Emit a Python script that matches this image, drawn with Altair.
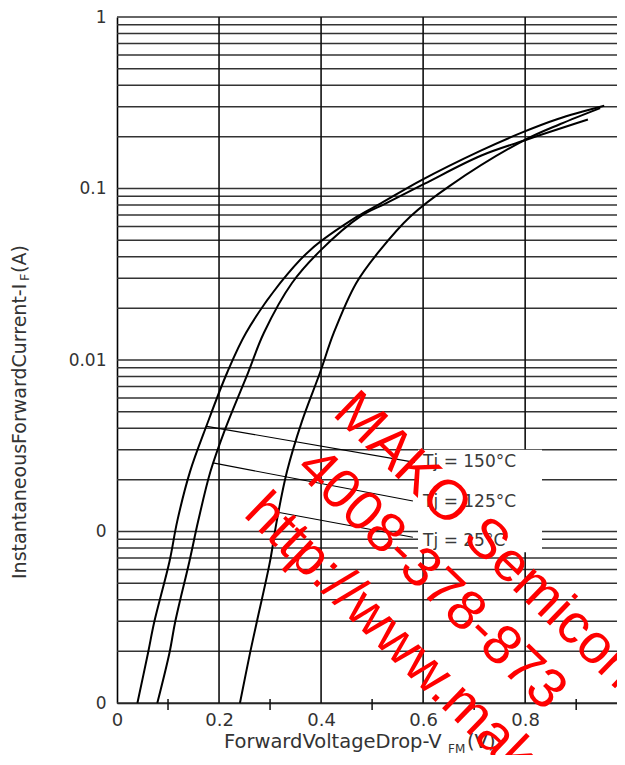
import altair as alt
import pandas as pd

# ---------------- data ----------------
# Tj = 150 C curve
V_150 = [0.040, 0.061, 0.073, 0.103, 0.118, 0.143, 0.176, 0.216, 0.253, 0.320,
         0.379, 0.471, 0.517, 0.595, 0.713, 0.792, 0.864, 0.955]
I_150 = [1.0e-4, 1.972e-4, 2.965e-4, 6.714e-4, 1.146e-3, 2.228e-3, 4.178e-3,
         8.453e-3, 0.01442, 0.02812, 0.04385, 0.06871, 0.08185, 0.1112, 0.1663,
         0.2109, 0.2541, 0.3034]
# Tj = 125 C curve
V_125 = [0.079, 0.103, 0.114, 0.142, 0.159, 0.183, 0.212, 0.257, 0.288, 0.343,
         0.400, 0.477, 0.527, 0.603, 0.713, 0.798, 0.923]
I_125 = [1.0e-4, 1.972e-4, 2.965e-4, 6.714e-4, 1.146e-3, 2.228e-3, 3.954e-3,
         8.453e-3, 0.01442, 0.02812, 0.04385, 0.06871, 0.08185, 0.1067, 0.1552,
         0.1905, 0.2523]
# Tj = 25 C curve
V_25 = [0.241, 0.261, 0.274, 0.300, 0.313, 0.333, 0.362, 0.398, 0.425, 0.469,
        0.516, 0.575, 0.653, 0.796, 0.869, 0.947]
I_25 = [1.0e-4, 1.972e-4, 2.965e-4, 6.714e-4, 1.146e-3, 2.228e-3, 4.345e-3,
        8.453e-3, 0.01442, 0.02812, 0.04385, 0.06871, 0.1040, 0.1897,
        0.2377, 0.2944]

X_LABEL_VALUES = [0, 0.2, 0.4, 0.6, 0.8]
X_MINOR_TICKS = [0.1, 0.3, 0.5, 0.7, 0.9]
X_GRID = [0.2, 0.4, 0.6, 0.8]
Y_DECADES = [1e-4, 1e-3, 1e-2, 1e-1, 1.0]
Y_MULT = [1, 2, 3, 4, 5, 6, 7, 8, 9]
Y_GRID = [m * d for d in Y_DECADES[:-1] for m in Y_MULT] + [1.0]

TJ_LABELS = ["Tj = 150°C", "Tj = 125°C", "Tj = 25°C"]
LABEL_V = [0.600, 0.600, 0.600]
LABEL_I = [0.002547, 0.001493, 0.000885]
LEADER_V0 = [0.176, 0.188, 0.318]
LEADER_I0 = [0.004102, 0.002512, 0.001291]
LEADER_V1 = [0.584, 0.580, 0.580]
LEADER_I1 = [0.002529, 0.001507, 0.000925]
BOX_V = [0.590, 0.833]
BOX_I = [0.000757, 0.002992]

WATERMARK = ["MAKO Semiconductor", "4008-378-873", "http://www.makosemi.com"]

# ---------------- tables ----------------
curves = pd.concat([
    pd.DataFrame({"v": V_150, "i": I_150, "s": "150"}),
    pd.DataFrame({"v": V_125, "i": I_125, "s": "125"}),
    pd.DataFrame({"v": V_25, "i": I_25, "s": "25"}),
], ignore_index=True)
hgrid = pd.DataFrame({"i": Y_GRID})
vgrid = pd.DataFrame({"v": X_GRID})
minor = pd.DataFrame({"v": X_MINOR_TICKS})
leaders = pd.DataFrame({"v": LEADER_V0, "i": LEADER_I0, "v2": LEADER_V1, "i2": LEADER_I1})
labels = pd.DataFrame({"v": LABEL_V, "i": LABEL_I, "t": TJ_LABELS})
box = pd.DataFrame({"v": [BOX_V[0]], "v2": [BOX_V[1]], "i": [BOX_I[0]], "i2": [BOX_I[1]]})

FONT = "DejaVu Sans"
TXT = "#333333"
H = 686

xscale = alt.Scale(domain=[0, 0.98], nice=False, zero=False)
yscale = alt.Scale(type="log", domain=[1e-4, 1], nice=False)
xaxis = alt.Axis(values=X_LABEL_VALUES, title=None, grid=False, tickSize=0,
                 labelExpr="datum.value == 0 ? '0' : format(datum.value, '.1f')",
                 labelFont=FONT, labelFontSize=18, labelColor=TXT, labelPadding=8,
                 labelFlush=False, labelOverlap=False, labelBound=False,
                 domainColor="#000000", domainWidth=1.6)
yaxis = alt.Axis(values=Y_DECADES, title=None, grid=False, tickSize=0,
                 labelExpr="datum.value > 0.5 ? '1' : datum.value > 0.05 ? '0.1' : datum.value > 0.005 ? '0.01' : '0'",
                 labelFont=FONT, labelFontSize=17, labelColor=TXT, labelPadding=11,
                 labelFlush=False, labelOverlap=False, labelBound=False,
                 domainColor="#000000", domainWidth=1.6)

X = alt.X("v:Q", scale=xscale, axis=xaxis)
Y = alt.Y("i:Q", scale=yscale, axis=yaxis)

hg = alt.Chart(hgrid).mark_rule(color="#333333", strokeWidth=1.5).encode(y=Y)
vg = alt.Chart(vgrid).mark_rule(color="#111111", strokeWidth=1.6).encode(x=X)
ticks = alt.Chart(minor).mark_rule(color="#111111", strokeWidth=1.5).encode(
    x=X, y=alt.value(H - 4), y2=alt.value(H + 7))
boxl = alt.Chart(box).mark_rect(color="white").encode(x=X, x2="v2:Q", y=Y, y2="i2:Q")
lines = alt.Chart(curves).mark_line(color="black", strokeWidth=2, interpolate="catmull-rom").encode(
    x=X, y=Y, detail="s:N", order="v:Q")
lead = alt.Chart(leaders).mark_rule(color="black", strokeWidth=1.1).encode(
    x=X, y=Y, x2="v2:Q", y2="i2:Q")
labt = alt.Chart(labels).mark_text(align="left", baseline="middle", font=FONT,
                                   fontSize=17, color="#3a3a3a").encode(x=X, y=Y, text="t:N")

# axis titles (with subscripts)
def ptext(s, x, y, size, angle=0, align="left"):
    return alt.Chart(pd.DataFrame({"t": [s]})).mark_text(
        align=align, baseline="middle", font=FONT, fontSize=size, color=TXT, angle=angle
    ).encode(x=alt.value(x), y=alt.value(y), text="t:N")

xt1 = ptext("ForwardVoltageDrop-V", 107, 725, 19.5)
xt2 = ptext("FM", 331, 732, 12)
xt3 = ptext("(V)", 350, 725, 19.5)
yt1 = ptext("InstantaneousForwardCurrent-I", -97, 562, 19, angle=270)
yt2 = ptext("F", -92, 264, 13, angle=270)
yt3 = ptext("(A)", -97, 256, 19, angle=270)

# watermark
wm_pos = [(226, 385), (189, 441), (137, 486)]
wms = []
for s, (px, py) in zip(WATERMARK, wm_pos):
    wms.append(alt.Chart(pd.DataFrame({"t": [s]})).mark_text(
        align="left", baseline="middle", font="Liberation Sans", fontSize=56,
        color="#ff0000", angle=44
    ).encode(x=alt.value(px), y=alt.value(py), text="t:N"))

chart = alt.layer(hg, vg, ticks, boxl, lines, lead, labt,
                  xt1, xt2, xt3, yt1, yt2, yt3, *wms).properties(
    width=500, height=H,
    autosize=alt.AutoSizeParams(type="none"),
    padding={"left": 109, "top": 9, "right": 0, "bottom": 52},
    background="white",
).configure_view(stroke=None)

chart.save("out.html", embed_options={"renderer": "svg", "actions": False})
